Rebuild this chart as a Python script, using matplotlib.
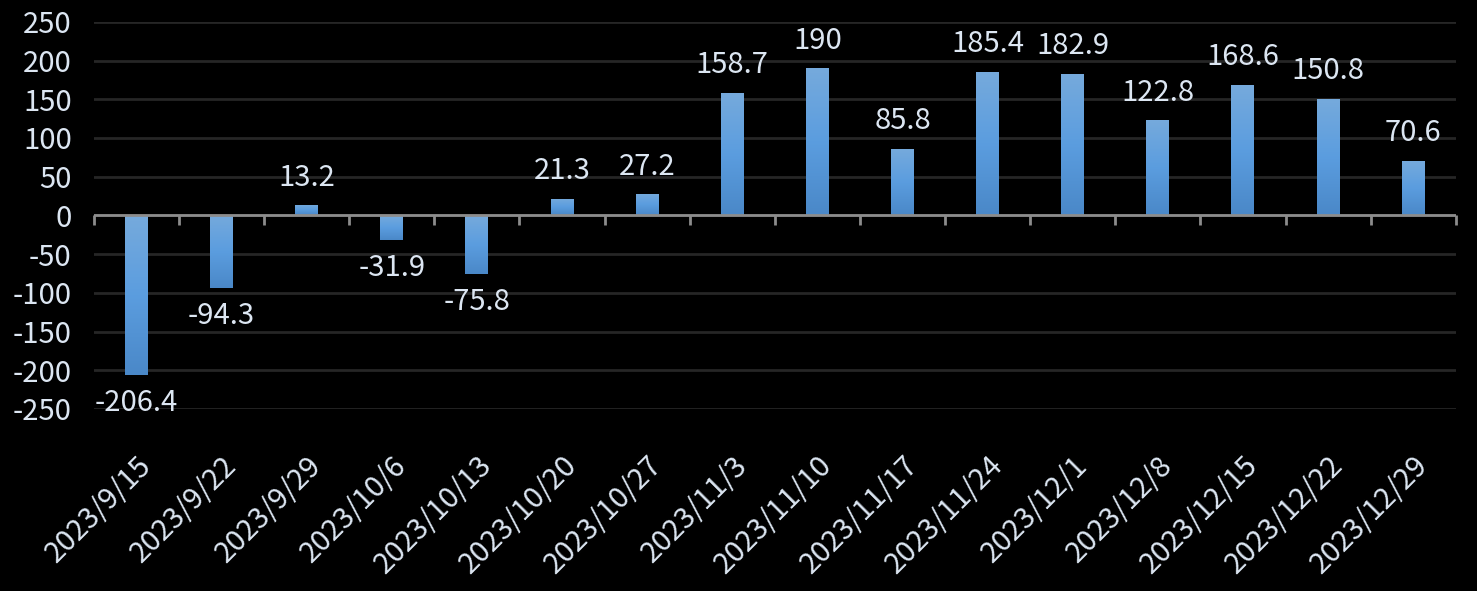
import numpy as np
import matplotlib.pyplot as plt
from matplotlib.colors import LinearSegmentedColormap

# Data
dates = ["2023/9/15", "2023/9/22", "2023/9/29", "2023/10/6", "2023/10/13",
         "2023/10/20", "2023/10/27", "2023/11/3", "2023/11/10", "2023/11/17",
         "2023/11/24", "2023/12/1", "2023/12/8", "2023/12/15", "2023/12/22",
         "2023/12/29"]
values = [-206.4, -94.3, 13.2, -31.9, -75.8, 21.3, 27.2, 158.7, 190, 85.8,
          185.4, 182.9, 122.8, 168.6, 150.8, 70.6]
labels = ["-206.4", "-94.3", "13.2", "-31.9", "-75.8", "21.3", "27.2", "158.7",
          "190", "85.8", "185.4", "182.9", "122.8", "168.6", "150.8", "70.6"]

text_color = "#dce6f2"
fs = 21
plt.rcParams['font.family'] = ['Noto Sans CJK TC', 'DejaVu Sans']
plt.rcParams['axes.unicode_minus'] = False

fig = plt.figure(figsize=(14.77, 5.91), dpi=100, facecolor="black")
ax = fig.add_axes([0.0636, 0.308, 0.922, 0.655], facecolor="black")

x = np.arange(len(values))
bars = ax.bar(x, values, width=0.27, color="#5b9bd5", zorder=3)

# vertical gradient inside each bar (lighter at top, darker at bottom)
cmap = LinearSegmentedColormap.from_list("grad", ["#4a88c8", "#5b9ddf", "#76aadc"])
grad = np.linspace(0, 1, 256).reshape(-1, 1)
for b in bars:
    x0, y0 = b.get_x(), b.get_y()
    w, h = b.get_width(), b.get_height()
    ylo, yhi = min(y0, y0 + h), max(y0, y0 + h)
    im = ax.imshow(grad, cmap=cmap, aspect="auto", origin="lower",
                   extent=[x0, x0 + w, ylo, yhi], zorder=4)
    im.set_clip_path(b)

# data labels
for xi, v, lab in zip(x, values, labels):
    if v >= 0:
        ax.annotate(lab, (xi, v), xytext=(0, 9), textcoords="offset points",
                    ha="center", va="bottom", color=text_color, fontsize=fs)
    else:
        ax.annotate(lab, (xi, v), xytext=(0, -9), textcoords="offset points",
                    ha="center", va="top", color=text_color, fontsize=fs)

# gridlines
ax.set_ylim(-250, 250)
ax.set_yticks(np.arange(-250, 251, 50))
ax.yaxis.grid(True, color="#262626", linewidth=2, zorder=0)
ax.set_xlim(-0.5, len(values) - 0.5)

# zero axis line with category tick marks
ax.axhline(0, color="#8c8c8c", linewidth=2, zorder=5)
ax.vlines(np.arange(len(values) + 1) - 0.5, -13, 0, color="#8c8c8c",
          linewidth=2, zorder=5, clip_on=False)

ax.set_xticks(x)
ax.set_xticklabels(dates, rotation=45, ha="right", rotation_mode="anchor",
                   color=text_color, fontsize=fs)
ax.tick_params(axis="x", length=0, pad=30)
ax.tick_params(axis="y", length=0, pad=16, labelcolor=text_color, labelsize=fs)
for s in ax.spines.values():
    s.set_visible(False)

fig.savefig("out.png", dpi=100, facecolor="black")
